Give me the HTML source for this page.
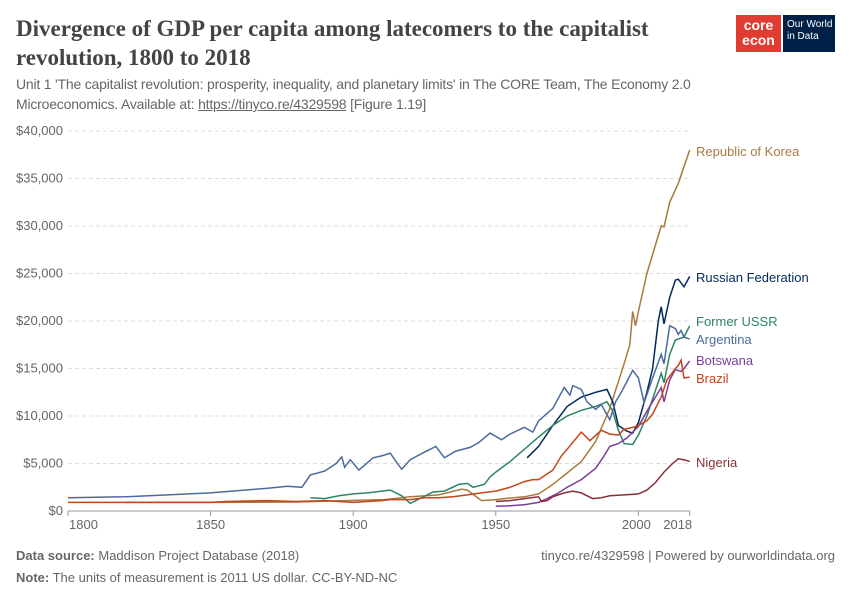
<!DOCTYPE html>
<html><head><meta charset="utf-8">
<style>
body{margin:0;background:#fff;width:850px;height:600px;overflow:hidden;font-family:"Liberation Sans",sans-serif;}
.t{position:absolute;}
</style></head>
<body>
<div class="t" style="left:16px;top:14px;width:700px;font-family:'Liberation Serif',serif;font-size:23px;font-weight:bold;color:#444;line-height:29px;">Divergence of GDP per capita among latecomers to the capitalist revolution, 1800 to 2018</div>
<div class="t" style="left:16px;top:74px;width:720px;font-size:14px;letter-spacing:-0.2px;color:#666;line-height:20px;">Unit 1 'The capitalist revolution: prosperity, inequality, and planetary limits' in The CORE Team, The Economy 2.0<br>Microeconomics. Available at: <span style="text-decoration:underline">https://tinyco.re/4329598</span> [Figure 1.19]</div>
<div class="t" style="left:736px;top:15px;width:45px;height:37px;background:#e03c31;color:#fff;font-weight:bold;font-size:14px;line-height:15px;text-align:center;padding-top:3px;box-sizing:border-box;">core<br>econ</div>
<div class="t" style="left:783px;top:15px;width:52px;height:37px;background:#002147;color:#fff;font-size:10px;line-height:12px;padding:4px 0 0 4px;box-sizing:border-box;">Our World<br>in Data</div>
<svg class="t" style="left:0;top:0" width="850" height="600">
<g id="grid"></g><g id="series"></g><g id="labels"></g>
</svg>
<div class="t" style="left:16px;top:548px;font-size:13px;color:#666;"><b>Data source:</b> Maddison Project Database (2018)</div>
<div class="t" style="left:16px;top:570px;font-size:13px;color:#666;"><b>Note:</b> The units of measurement is 2011 US dollar. CC-BY-ND-NC</div>
<div class="t" style="right:15px;top:548px;font-size:13px;color:#666;">tinyco.re/4329598 | Powered by ourworldindata.org</div>
<script>
const yTicks=[0,5000,10000,15000,20000,25000,30000,35000,40000];
const xTicks=[1800,1850,1900,1950,2000,2018];
const names=["Republic of Korea","Russian Federation","Former USSR","Argentina","Botswana","Brazil","Nigeria"];
const colors=["#a97a3f","#00295b","#2c8465","#4c6a9c","#7b3e9e","#c3451b","#883039"];
const labelY=[152,278,322,340,361,379,463];
const korea=[[1820,900],[1850,900],[1880,950],[1911,1200],[1920,1500],[1930,1700],[1938,2300],[1940,2200],[1945,1100],[1950,1200],[1953,1300],[1960,1500],[1965,1800],[1970,2800],[1975,4000],[1980,5200],[1985,7300],[1990,10800],[1995,15500],[1997,17500],[1998,21000],[1999,19500],[2000,21000],[2003,25000],[2005,27000],[2008,30000],[2009,29900],[2011,32500],[2014,34500],[2018,38000]];
const russia=[[1961,5600],[1965,6800],[1970,9000],[1975,11000],[1980,12000],[1985,12500],[1989,12800],[1991,11500],[1993,9000],[1996,8400],[1998,8200],[2000,9300],[2003,12500],[2005,15000],[2007,20000],[2008,21500],[2009,19700],[2011,22500],[2013,24300],[2014,24400],[2016,23600],[2018,24700]];
const ussr=[[1885,1400],[1890,1300],[1895,1600],[1900,1800],[1905,1900],[1910,2100],[1913,2200],[1917,1600],[1920,800],[1924,1400],[1928,2000],[1932,2100],[1937,2800],[1940,2900],[1942,2500],[1946,2800],[1948,3600],[1950,4100],[1955,5200],[1960,6500],[1965,7800],[1970,9000],[1975,10000],[1980,10600],[1985,11000],[1989,11500],[1991,10500],[1993,8500],[1995,7100],[1998,7000],[2000,8000],[2003,10000],[2005,11800],[2008,14500],[2009,13500],[2011,16500],[2013,18000],[2015,18200],[2016,18300],[2018,19500]];
const argentina=[[1800,1400],[1820,1500],[1850,1900],[1870,2400],[1877,2600],[1882,2500],[1885,3800],[1890,4200],[1894,5000],[1896,5700],[1897,4600],[1899,5400],[1902,4300],[1907,5600],[1910,5800],[1913,6100],[1915,5200],[1917,4400],[1920,5400],[1925,6200],[1929,6800],[1932,5600],[1936,6300],[1941,6700],[1944,7200],[1948,8200],[1952,7500],[1955,8100],[1960,8800],[1963,8300],[1965,9500],[1970,10800],[1974,13000],[1976,12200],[1977,13200],[1980,12800],[1982,11500],[1985,10700],[1987,11200],[1990,9600],[1992,11500],[1994,12500],[1998,14800],[2000,14000],[2002,11400],[2005,14000],[2008,16500],[2009,15500],[2011,19500],[2013,19200],[2014,18600],[2015,19000],[2016,18300],[2018,18100]];
const botswana=[[1950,500],[1955,550],[1960,650],[1965,900],[1968,1300],[1972,1900],[1975,2500],[1980,3300],[1985,4500],[1988,5800],[1990,6800],[1993,7100],[1996,7700],[2000,8900],[2003,10500],[2006,12000],[2008,13000],[2009,11500],[2011,13800],[2013,14900],[2015,14700],[2016,15000],[2018,15800]];
const brazil=[[1800,900],[1850,900],[1855,1000],[1870,1100],[1880,1000],[1890,1100],[1900,900],[1910,1100],[1913,1200],[1920,1200],[1925,1400],[1930,1400],[1935,1500],[1940,1700],[1945,1900],[1950,2100],[1955,2500],[1960,3100],[1963,3300],[1965,3300],[1970,4300],[1973,5800],[1975,6500],[1980,8300],[1983,7400],[1987,8500],[1990,8100],[1993,8000],[1995,8600],[1998,8800],[2000,9000],[2003,9500],[2005,10200],[2008,12000],[2010,13800],[2012,14600],[2013,15000],[2014,15300],[2015,15900],[2016,14000],[2018,14100]];
const nigeria=[[1950,1000],[1955,1100],[1960,1300],[1965,1500],[1966,1000],[1968,1100],[1970,1500],[1974,1900],[1977,2100],[1980,1900],[1984,1300],[1987,1400],[1990,1600],[1995,1700],[2000,1800],[2003,2200],[2006,3000],[2009,4100],[2012,5000],[2014,5500],[2016,5400],[2018,5200]];
const series=[korea,russia,ussr,argentina,botswana,brazil,nigeria];
const NS="http://www.w3.org/2000/svg";
const x=y=>68+(y-1800)*(689.7-68)/218;
const yv=v=>511-v*0.0095;
function mk(t,a,p){const e=document.createElementNS(NS,t);for(const k in a)e.setAttribute(k,a[k]);p.appendChild(e);return e;}
const grid=document.getElementById('grid'),sg=document.getElementById('series'),lg=document.getElementById('labels');
yTicks.forEach(v=>{
 if(v>0){const l=mk('line',{x1:68,x2:690,y1:yv(v),y2:yv(v),stroke:'#ddd','stroke-dasharray':'4,3'},grid);
 
 }
 const t=mk('text',{x:63,y:yv(v)+4,'text-anchor':'end','font-size':13,fill:'#666'},grid);t.textContent='$'+v.toLocaleString('en-US');
 
 
});
const ax=mk('line',{x1:68,x2:690,y1:511,y2:511,stroke:'#999'},grid);


xTicks.forEach((yr,i)=>{
 mk('line',{x1:x(yr),x2:x(yr),y1:511,y2:516,stroke:'#999'},grid);
 let tx=x(yr),anchor='middle';
 if(i==0){anchor='start';tx=x(yr)+1;}
 if(yr==2000)tx=x(yr)-2;
 if(yr==2018)tx=x(yr)-12;
 const t=mk('text',{x:tx,y:529,'text-anchor':anchor,'font-size':13,fill:'#666'},grid);t.textContent=yr;
 
 
});
series.forEach((s,i)=>{
 const p=mk('path',{d:s.map((d,j)=>(j?'L':'M')+x(d[0]).toFixed(1)+','+yv(d[1]).toFixed(1)).join(''),fill:'none',stroke:colors[i],'stroke-width':1.5},sg);
 
 
 const t=mk('text',{x:696,y:labelY[i]+4,'font-size':13,fill:colors[i]},lg);t.textContent=names[i];
 
 
});
</script>
</body></html>
